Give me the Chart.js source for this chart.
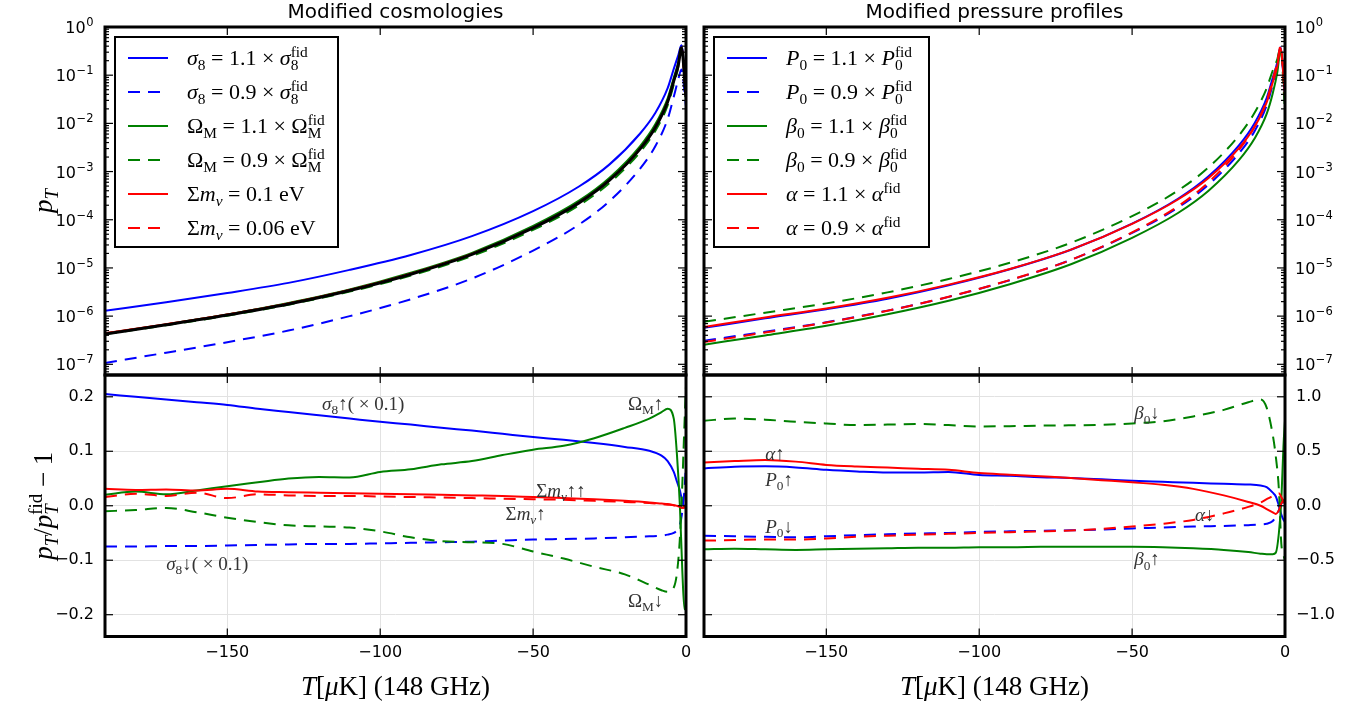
<!DOCTYPE html>
<html>
<head>
<meta charset="utf-8">
<script src="https://cdn.jsdelivr.net/npm/chart.js@4.4.1/dist/chart.umd.min.js"></script>
<style>
  body { margin: 0; background: #fff; }
  canvas { position: absolute; left: 0; top: 0; }
</style>
</head>
<body>
<canvas id="tl" width="1361" height="706"></canvas>
<canvas id="tr" width="1361" height="706"></canvas>
<canvas id="bl" width="1361" height="706"></canvas>
<canvas id="br" width="1361" height="706"></canvas>
<script>
// temperature grids (muK, 148 GHz)
const T_top = [-190, -170, -150, -130, -110, -90, -70, -50, -35, -25, -15, -10, -6, -4, -2.5, -1.5, 0];
const T_bot = [-190, -180, -170, -160, -150, -140, -130, -120, -110, -100, -90, -80, -70, -60, -50, -40, -30, -20, -12, -8, -6, -4, -3, -2, -1.2, -0.5, 0];

// top left: p_T for modified cosmologies
const pt_fid    = [4.27e-7, 6.61e-7, 1.05e-6, 1.78e-6, 3.39e-6, 7.41e-6, 1.91e-5, 6.76e-5, 2.24e-4, 6.61e-4, 2.95e-3, 8.32e-3, 2.82e-2, 7.59e-2, 0.166, 0.372, 0.0355];
const pt_s8_up  = [1.29e-6, 1.95e-6, 3.02e-6, 4.90e-6, 9.12e-6, 1.86e-5, 4.57e-5, 1.51e-4, 4.90e-4, 1.41e-3, 6.17e-3, 1.66e-2, 5.37e-2, 0.135, 0.263, 0.417, 0.0447];
const pt_s8_dn  = [1.07e-7, 1.74e-7, 2.88e-7, 5.01e-7, 1.00e-6, 2.24e-6, 6.03e-6, 2.29e-5, 7.94e-5, 2.45e-4, 1.15e-3, 3.39e-3, 1.23e-2, 3.55e-2, 8.32e-2, 0.132, 0.0224];
const pt_om_up  = [4.36e-7, 6.74e-7, 1.08e-6, 1.87e-6, 3.56e-6, 7.93e-6, 2.06e-5, 7.44e-5, 2.49e-4, 7.47e-4, 3.39e-3, 9.69e-3, 3.31e-2, 8.88e-2, 0.186, 0.372, 0.028];
const pt_om_dn  = [4.23e-7, 6.48e-7, 1.02e-6, 1.73e-6, 3.22e-6, 6.93e-6, 1.77e-5, 6.15e-5, 1.99e-4, 5.82e-4, 2.54e-3, 7.07e-3, 2.37e-2, 6.38e-2, 0.149, 0.372, 0.043];
const pt_mnu_hi = [4.40e-7, 6.80e-7, 1.08e-6, 1.83e-6, 3.48e-6, 7.58e-6, 1.95e-5, 6.88e-5, 2.27e-4, 6.69e-4, 2.98e-3, 8.38e-3, 2.83e-2, 7.59e-2, 0.166, 0.372, 0.0355];
const pt_mnu_lo = [4.35e-7, 6.72e-7, 1.07e-6, 1.81e-6, 3.44e-6, 7.52e-6, 1.93e-5, 6.83e-5, 2.26e-4, 6.66e-4, 2.97e-3, 8.36e-3, 2.83e-2, 7.59e-2, 0.166, 0.372, 0.0355];

// top right: p_T for modified pressure profiles
const pt_p0_up = [5.72e-7, 8.99e-7, 1.39e-6, 2.30e-6, 4.37e-6, 9.41e-6, 2.39e-5, 8.31e-5, 2.73e-4, 8.00e-4, 3.54e-3, 9.98e-3, 3.36e-2, 8.88e-2, 0.186, 0.379, 0.032];
const pt_p0_dn = [3.07e-7, 4.76e-7, 7.46e-7, 1.30e-6, 2.51e-6, 5.56e-6, 1.47e-5, 5.34e-5, 1.79e-4, 5.35e-4, 2.42e-3, 6.82e-3, 2.34e-2, 6.45e-2, 0.149, 0.365, 0.037];
const pt_b0_up = [2.56e-7, 3.97e-7, 6.30e-7, 1.09e-6, 2.08e-6, 4.59e-6, 1.19e-5, 4.22e-5, 1.38e-4, 4.00e-4, 1.74e-3, 4.78e-3, 1.57e-2, 4.21e-2, 0.116, 0.316, 0.060];
const pt_b0_dn = [7.60e-7, 1.18e-6, 1.84e-6, 3.11e-6, 5.90e-6, 1.28e-5, 3.32e-5, 1.19e-4, 4.03e-4, 1.22e-3, 5.69e-3, 1.64e-2, 5.36e-2, 0.125, 0.216, 0.372, 0.0178];
const pt_al_up = [5.97e-7, 9.39e-7, 1.44e-6, 2.40e-6, 4.51e-6, 9.52e-6, 2.40e-5, 8.21e-5, 2.63e-4, 7.34e-4, 3.10e-3, 8.44e-3, 2.74e-2, 7.13e-2, 0.156, 0.372, 0.0366];
const pt_al_dn = [2.90e-7, 4.56e-7, 7.35e-7, 1.29e-6, 2.52e-6, 5.61e-6, 1.47e-5, 5.48e-5, 1.90e-4, 6.02e-4, 2.86e-3, 8.40e-3, 2.99e-2, 8.27e-2, 0.184, 0.394, 0.0355];

// bottom left: p_T/p_T^fid - 1 (sigma8 curves scaled by 0.1)
const r_s8_up   = [0.205, 0.200, 0.195, 0.190, 0.185, 0.178, 0.172, 0.166, 0.160, 0.154, 0.149, 0.143, 0.138, 0.132, 0.126, 0.121, 0.115, 0.108, 0.101, 0.092, 0.082, 0.062, 0.045, 0.028, 0.008, -0.002, -0.005];
const r_s8_dn   = [-0.075, -0.075, -0.074, -0.074, -0.073, -0.072, -0.071, -0.070, -0.070, -0.069, -0.068, -0.067, -0.066, -0.064, -0.062, -0.061, -0.060, -0.058, -0.056, -0.055, -0.053, -0.050, -0.045, -0.035, -0.010, 0.030, 0.075];
const r_om_up   = [0.020, 0.026, 0.021, 0.028, 0.036, 0.043, 0.050, 0.053, 0.052, 0.062, 0.067, 0.076, 0.082, 0.093, 0.103, 0.110, 0.124, 0.143, 0.160, 0.172, 0.178, 0.160, 0.097, 0.000, -0.120, -0.190, -0.190];
const r_om_dn   = [-0.010, -0.008, -0.004, -0.012, -0.022, -0.030, -0.036, -0.038, -0.040, -0.047, -0.058, -0.065, -0.067, -0.070, -0.084, -0.097, -0.112, -0.126, -0.145, -0.155, -0.158, -0.150, -0.125, -0.060, 0.040, 0.150, 0.220];
const r_mnu_hi  = [0.031, 0.029, 0.030, 0.028, 0.031, 0.026, 0.025, 0.024, 0.023, 0.022, 0.021, 0.020, 0.019, 0.018, 0.016, 0.014, 0.012, 0.009, 0.006, 0.004, 0.003, 0.001, 0.000, -0.002, -0.004, -0.002, 0.000];
const r_mnu_lo  = [0.016, 0.022, 0.018, 0.024, 0.014, 0.021, 0.019, 0.018, 0.018, 0.017, 0.016, 0.015, 0.014, 0.013, 0.012, 0.011, 0.009, 0.007, 0.005, 0.003, 0.002, 0.001, 0.000, -0.002, -0.004, -0.003, 0.000];

// bottom right: p_T/p_T^fid - 1 for pressure profile parameters
const r_p0_up = [0.343, 0.358, 0.362, 0.352, 0.330, 0.315, 0.305, 0.305, 0.310, 0.282, 0.275, 0.262, 0.255, 0.243, 0.230, 0.220, 0.210, 0.202, 0.195, 0.185, 0.170, 0.120, 0.085, 0.000, -0.080, -0.130, -0.150];
const r_p0_dn = [-0.275, -0.280, -0.285, -0.290, -0.280, -0.270, -0.262, -0.255, -0.250, -0.240, -0.235, -0.230, -0.225, -0.218, -0.208, -0.200, -0.190, -0.185, -0.178, -0.172, -0.165, -0.140, -0.100, -0.040, 0.020, 0.040, 0.050];
const r_b0_up = [-0.400, -0.395, -0.400, -0.405, -0.400, -0.395, -0.390, -0.385, -0.385, -0.380, -0.380, -0.377, -0.376, -0.376, -0.376, -0.380, -0.390, -0.405, -0.425, -0.440, -0.445, -0.445, -0.430, -0.250, 0.050, 0.550, 0.780];
const r_b0_dn = [0.780, 0.800, 0.790, 0.770, 0.755, 0.740, 0.745, 0.750, 0.740, 0.728, 0.730, 0.735, 0.738, 0.742, 0.755, 0.775, 0.820, 0.880, 0.950, 0.975, 0.900, 0.650, 0.450, 0.150, -0.350, -0.450, -0.500];
const r_al_up = [0.398, 0.410, 0.420, 0.405, 0.375, 0.360, 0.350, 0.340, 0.330, 0.300, 0.285, 0.270, 0.255, 0.235, 0.215, 0.192, 0.155, 0.095, 0.035, 0.000, -0.030, -0.060, -0.075, -0.040, 0.020, 0.050, 0.030];
const r_al_dn = [-0.320, -0.315, -0.310, -0.310, -0.300, -0.285, -0.275, -0.265, -0.258, -0.250, -0.243, -0.236, -0.228, -0.212, -0.190, -0.165, -0.130, -0.070, -0.010, 0.030, 0.060, 0.090, 0.110, 0.115, 0.080, 0.040, 0.000];

// tick values
const X_TICKS = [-150, -100, -50, 0];
const LOG_TICKS = [1e-7, 1e-6, 1e-5, 1e-4, 1e-3, 1e-2, 1e-1, 1];
const BL_TICKS = [-0.2, -0.1, 0, 0.1, 0.2];
const BR_TICKS = [-1, -0.5, 0, 0.5, 1];

const BLUE = '#0000ff', GREEN = '#008000', RED = '#ff0000';
const GRID = '#e2e2e2';
const SANS = '"DejaVu Sans", sans-serif';
const SERIF = '"Liberation Serif", "DejaVu Serif", serif';

const minus = s => s.replace('-', '\u2212');

// tiny math text: _x / _{..} sub, ^x / ^{..} sup, "..." roman, letters italic
function parseMath(s) {
  const items = [];
  let i = 0, roman = false, prevSub = false;
  const add = (txt, lvl, mark) => {
    let first = true;
    for (const ch of txt) {
      if (ch === '"') { roman = !roman; continue; }
      const it = !roman && /[A-Za-z\u03b1-\u03c9]/.test(ch);
      const last = items[items.length - 1];
      if (!(first && mark) && last && last.lvl === lvl && last.it === it) last.t += ch;
      else items.push({ t: ch, it, lvl, mark: first ? mark : '' });
      first = false;
    }
  };
  while (i < s.length) {
    const c = s[i];
    if (c === '_' || c === '^') {
      i++;
      let g;
      if (s[i] === '{') { const j = s.indexOf('}', i); g = s.slice(i + 1, j); i = j + 1; }
      else { g = s[i]; i++; }
      if (c === '_') { add(g, -1, 'sub'); prevSub = true; }
      else { add(g, 1, prevSub ? 'stack' : 'sup'); prevSub = false; }
    } else { add(c, 0, ''); prevSub = false; i++; }
  }
  return items;
}

function drawMath(ctx, s, x, y, size, align) {
  const items = parseMath(s);
  let pen = 0, maxX = 0, subStart = 0;
  for (const it of items) {
    const fs = it.lvl ? size * 0.7 : size;
    it.font = (it.it ? 'italic ' : '') + fs + 'px ' + SERIF;
    ctx.font = it.font;
    const w = ctx.measureText(it.t).width;
    if (it.lvl === 0 || it.mark === 'sub' || it.mark === 'sup') pen = maxX;
    if (it.mark === 'sub') subStart = pen;
    if (it.mark === 'stack') pen = subStart;
    it.x = pen;
    it.dy = it.lvl < 0 ? size * 0.22 : it.lvl > 0 ? -size * 0.38 : 0;
    pen += w;
    maxX = Math.max(maxX, pen);
  }
  const ox = align === 'center' ? x - maxX / 2 : align === 'right' ? x - maxX : x;
  const base = y + size * 0.33;
  ctx.textAlign = 'left';
  ctx.textBaseline = 'alphabetic';
  for (const it of items) {
    ctx.font = it.font;
    ctx.fillText(it.t, ox + it.x, base + it.dy);
  }
}

// "10" with a raised exponent, as a log axis label
function drawPow(ctx, e, x, y, align) {
  const big = '16px ' + SANS, small = '11.5px ' + SANS;
  const ex = minus(String(e));
  ctx.font = big;
  const w1 = ctx.measureText('10').width;
  ctx.font = small;
  const w2 = ctx.measureText(ex).width;
  const x0 = align === 'right' ? x - w1 - w2 : x;
  ctx.textAlign = 'left';
  ctx.textBaseline = 'alphabetic';
  ctx.font = big;
  ctx.fillText('10', x0, y + 6);
  ctx.font = small;
  ctx.fillText(ex, x0 + w1 + 0.5, y - 1);
}

const panelPlugin = {
  id: 'panel',
  afterDraw(chart, args, o) {
    const ctx = chart.ctx, a = chart.chartArea;
    const xs = chart.scales.x, ys = chart.scales.y;
    ctx.save();
    const seg = (x1, y1, x2, y2) => { ctx.beginPath(); ctx.moveTo(x1, y1); ctx.lineTo(x2, y2); ctx.stroke(); };
    ctx.strokeStyle = '#000';
    ctx.lineWidth = 1.2;
    ctx.setLineDash([]);
    // inward ticks
    X_TICKS.forEach(v => {
      const p = xs.getPixelForValue(v);
      if (p > a.left + 2 && p < a.right - 2) { seg(p, a.top, p, a.top + 8); seg(p, a.bottom, p, a.bottom - 8); }
    });
    const major = o.log ? LOG_TICKS : (chart.canvas.id === 'br' ? BR_TICKS : BL_TICKS);
    major.forEach(v => {
      const p = ys.getPixelForValue(v);
      if (p > a.top + 2 && p < a.bottom - 2) { seg(a.left, p, a.left + 8, p); seg(a.right, p, a.right - 8, p); }
    });
    if (o.log) {
      for (let e = -8; e <= 0; e++) {
        for (let m = 2; m <= 9; m++) {
          const v = m * Math.pow(10, e);
          if (v <= ys.min || v >= ys.max) continue;
          const p = ys.getPixelForValue(v);
          seg(a.left, p, a.left + 4, p); seg(a.right, p, a.right - 4, p);
        }
      }
      // power-of-ten labels
      ctx.fillStyle = '#000';
      LOG_TICKS.forEach(v => {
        const p = ys.getPixelForValue(v);
        const e = Math.round(Math.log10(v));
        if (o.side === 'right') drawPow(ctx, e, a.right + 10, p, 'left');
        else drawPow(ctx, e, a.left - 12, p, 'right');
      });
    }
    // frame
    ctx.lineWidth = 3;
    ctx.strokeRect(a.left, a.top, a.right - a.left, a.bottom - a.top);

    // annotations
    ctx.fillStyle = '#333';
    (o.notes || []).forEach(n => {
      drawMath(ctx, n.t, xs.getPixelForValue(n.x), ys.getPixelForValue(n.y), 19, 'left');
    });

    // legend inside the panel
    if (o.legend) {
      const bx = a.left + 10, by = a.top + 10;
      const items = chart.data.datasets.filter(d => !d.noLegend);
      ctx.fillStyle = '#fff';
      ctx.fillRect(bx, by, o.legendWidth, 210);
      ctx.lineWidth = 2;
      ctx.strokeStyle = '#000';
      ctx.strokeRect(bx, by, o.legendWidth, 210);
      items.forEach((d, i) => {
        const cy = by + 21 + i * 34;
        ctx.strokeStyle = d.borderColor;
        ctx.lineWidth = 2;
        ctx.setLineDash(d.borderDash || []);
        seg(bx + 13, cy, bx + 53, cy);
        ctx.setLineDash([]);
        ctx.fillStyle = '#000';
        drawMath(ctx, d.label, bx + 72, cy, 22, 'left');
      });
    }

    // title and axis labels
    ctx.fillStyle = '#000';
    if (o.title) {
      ctx.font = '20px ' + SANS;
      ctx.textAlign = 'center';
      ctx.textBaseline = 'alphabetic';
      ctx.fillText(o.title, (a.left + a.right) / 2, 18);
    }
    if (o.xlabel) drawMath(ctx, o.xlabel, (a.left + a.right) / 2, 686, 27, 'center');
    if (o.ylabel) {
      ctx.save();
      ctx.translate(43, (a.top + a.bottom) / 2);
      ctx.rotate(-Math.PI / 2);
      drawMath(ctx, o.ylabel, 0, 0, 27, 'center');
      ctx.restore();
    }
    ctx.restore();
  }
};

function series(label, xs, ys, color, dashed, width) {
  return {
    label,
    data: xs.map((x, i) => ({ x, y: ys[i] })),
    borderColor: color,
    backgroundColor: color,
    borderWidth: width || 2,
    borderDash: dashed ? [12, 8] : [],
    pointRadius: 0,
    fill: false,
    cubicInterpolationMode: 'monotone'
  };
}

function xScale(labels, grid, h) {
  return {
    type: 'linear', min: -190, max: 0,
    afterBuildTicks: s => { s.ticks = X_TICKS.map(v => ({ value: v })); },
    afterFit: s => { s.height = h; },
    border: { display: false },
    grid: { display: grid, color: GRID, lineWidth: 1, drawTicks: false },
    ticks: {
      display: labels, padding: 7, color: '#000', maxRotation: 0, autoSkip: false,
      font: { family: SANS, size: 16 },
      callback: v => minus(String(v))
    }
  };
}

// log axis: labels are drawn by the panel plugin with raised exponents
function logY(pos, w) {
  return {
    type: 'logarithmic', position: pos, min: 6e-8, max: 1,
    afterBuildTicks: s => { s.ticks = LOG_TICKS.map(v => ({ value: v })); },
    afterFit: s => { s.width = w; },
    border: { display: false },
    grid: { display: false, drawTicks: false },
    ticks: { display: false }
  };
}

function linY(pos, w, lim, tickVals) {
  return {
    type: 'linear', position: pos, min: -lim, max: lim,
    afterBuildTicks: s => { s.ticks = tickVals.map(v => ({ value: v })); },
    afterFit: s => { s.width = w; },
    border: { display: false },
    grid: { display: true, color: GRID, lineWidth: 1, drawTicks: false },
    ticks: {
      padding: 11, color: '#000', autoSkip: false,
      font: { family: SANS, size: 16 },
      callback: v => minus(Number(v).toFixed(1))
    }
  };
}

function makePanel(id, datasets, pad, xAxis, yAxis, panel) {
  datasets.forEach((d, i) => { d.order = datasets.length - i; });
  return new Chart(document.getElementById(id), {
    type: 'line',
    data: { datasets },
    plugins: [panelPlugin],
    options: {
      responsive: false,
      animation: false,
      events: [],
      layout: { padding: pad },
      plugins: { legend: { display: false }, tooltip: { enabled: false }, panel },
      scales: { x: xAxis, y: yAxis }
    }
  });
}

const fid = series('fiducial', T_top, pt_fid, '#000', false, 3);
fid.noLegend = true;

makePanel('tl', [
  series('σ_8 = 1.1 × σ_8^{"fid"}', T_top, pt_s8_up, BLUE, false),
  series('σ_8 = 0.9 × σ_8^{"fid"}', T_top, pt_s8_dn, BLUE, true),
  series('Ω_{"M"} = 1.1 × Ω_{"M"}^{"fid"}', T_top, pt_om_up, GREEN, false),
  series('Ω_{"M"} = 0.9 × Ω_{"M"}^{"fid"}', T_top, pt_om_dn, GREEN, true),
  series('Σm_ν = 0.1 "eV"', T_top, pt_mnu_hi, RED, false),
  series('Σm_ν = 0.06 "eV"', T_top, pt_mnu_lo, RED, true),
  fid
], { left: 0, right: 675, top: 27, bottom: 331 }, xScale(false, false, 0), logY('left', 105),
  { log: true, side: 'left', legend: true, legendWidth: 223, title: 'Modified cosmologies', ylabel: 'p_T' });

makePanel('tr', [
  series('P_0 = 1.1 × P_0^{"fid"}', T_top, pt_p0_up, BLUE, false),
  series('P_0 = 0.9 × P_0^{"fid"}', T_top, pt_p0_dn, BLUE, true),
  series('β_0 = 1.1 × β_0^{"fid"}', T_top, pt_b0_up, GREEN, false),
  series('β_0 = 0.9 × β_0^{"fid"}', T_top, pt_b0_dn, GREEN, true),
  series('α = 1.1 × α^{"fid"}', T_top, pt_al_up, RED, false),
  series('α = 0.9 × α^{"fid"}', T_top, pt_al_dn, RED, true)
], { left: 704, right: 0, top: 27, bottom: 331 }, xScale(false, false, 0), logY('right', 76),
  { log: true, side: 'right', legend: true, legendWidth: 215, title: 'Modified pressure profiles' });

makePanel('bl', [
  series('σ8 up', T_bot, r_s8_up, BLUE, false),
  series('σ8 down', T_bot, r_s8_dn, BLUE, true),
  series('ΩM up', T_bot, r_om_up, GREEN, false),
  series('ΩM down', T_bot, r_om_dn, GREEN, true),
  series('Σmν 0.1 eV', T_bot, r_mnu_hi, RED, false),
  series('Σmν 0.06 eV', T_bot, r_mnu_lo, RED, true)
], { left: 0, right: 675, top: 375, bottom: 0 }, xScale(true, true, 69.5), linY('left', 105, 0.24, BL_TICKS),
  { log: false, xlabel: 'T[μ"K"] (148 "GHz")', ylabel: 'p_T/p_T^{"fid"} − 1',
    notes: [
      { t: 'σ_8↑( × 0.1)', x: -119, y: 0.187 },
      { t: 'Ω_{"M"}↑', x: -19, y: 0.187 },
      { t: 'Σm_ν↑↑', x: -49, y: 0.028 },
      { t: 'Σm_ν↑', x: -59, y: -0.015 },
      { t: 'σ_8↓( × 0.1)', x: -170, y: -0.107 },
      { t: 'Ω_{"M"}↓', x: -19, y: -0.174 }
    ] });

makePanel('br', [
  series('P0 up', T_bot, r_p0_up, BLUE, false),
  series('P0 down', T_bot, r_p0_dn, BLUE, true),
  series('β0 up', T_bot, r_b0_up, GREEN, false),
  series('β0 down', T_bot, r_b0_dn, GREEN, true),
  series('α up', T_bot, r_al_up, RED, false),
  series('α down', T_bot, r_al_dn, RED, true)
], { left: 704, right: 0, top: 375, bottom: 0 }, xScale(true, true, 69.5), linY('right', 76, 1.2, BR_TICKS),
  { log: false, xlabel: 'T[μ"K"] (148 "GHz")',
    notes: [
      { t: 'β_0↓', x: -49.3, y: 0.85 },
      { t: 'α↑', x: -170, y: 0.48 },
      { t: 'P_0↑', x: -170, y: 0.24 },
      { t: 'P_0↓', x: -170, y: -0.19 },
      { t: 'α↓', x: -29.4, y: -0.083 },
      { t: 'β_0↑', x: -49.3, y: -0.49 }
    ] });
</script>
</body>
</html>
